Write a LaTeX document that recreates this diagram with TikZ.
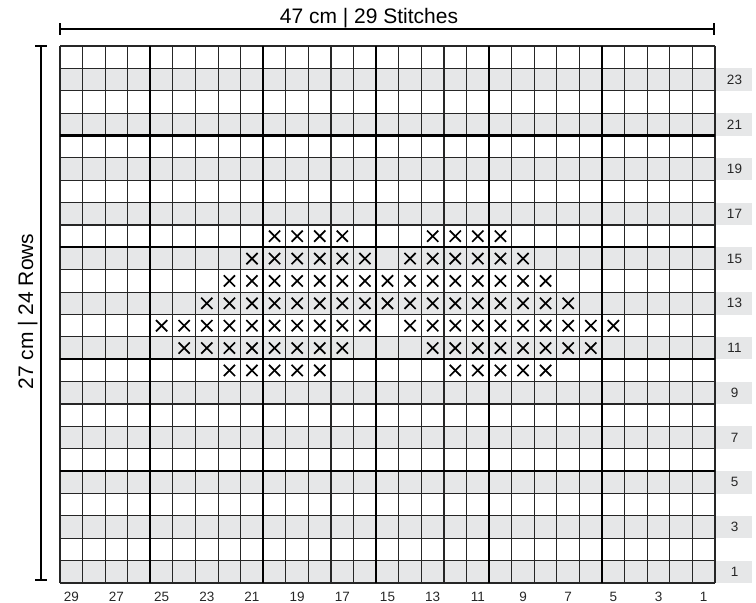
\documentclass[tikz,border=0pt]{standalone}
\usepackage{fontspec}
\setmainfont{Liberation Sans}
\definecolor{rowgray}{HTML}{E6E7E8}
\begin{document}
\begin{tikzpicture}[x=1pt,y=-1pt,
  graycell/.style={fill=rowgray},
  thinline/.style={line width=1.1pt,draw=black!85},
  thickline/.style={line width=2.2pt,draw=black},
  dimline/.style={line width=2.2pt,draw=black},
  numlabel/.style={inner sep=0pt,font=\fontsize{13.5}{15}\selectfont,text=black!85},
  titlelabel/.style={inner sep=0pt,font=\fontsize{21}{24}\selectfont},
  xmk/.style={line width=1.7pt,draw=black}]
\useasboundingbox (0,0) rectangle (756,603);
\def\gx{60}\def\gy{46}
\def\cw{22.5862}\def\ch{22.375}
% gray rows (odd rows from bottom), extended to the number band
\foreach \j in {1,3,...,23}
  \fill[graycell] ({\gx},{\gy+\j*\ch}) rectangle (752,{\gy+(\j+1)*\ch});
% X marks
\newcommand{\xm}[2]{%
  \draw[xmk] ({\gx+(#1+0.5)*\cw-5.6},{\gy+(#2+0.5)*\ch-5.6}) -- ++(11.2,11.2);
  \draw[xmk] ({\gx+(#1+0.5)*\cw-5.6},{\gy+(#2+0.5)*\ch+5.6}) -- ++(11.2,-11.2);}
\foreach \c in {9,...,12,16,17,18,19} {\xm{\c}{8}}
\foreach \c in {8,...,13,15,16,...,20} {\xm{\c}{9}}
\foreach \c in {7,...,21} {\xm{\c}{10}}
\foreach \c in {6,...,22} {\xm{\c}{11}}
\foreach \c in {4,...,13,15,16,...,24} {\xm{\c}{12}}
\foreach \c in {5,...,12,16,17,...,23} {\xm{\c}{13}}
\foreach \c in {7,...,11,17,18,...,21} {\xm{\c}{14}}
% thin grid
\foreach \i in {0,...,29}
  \draw[thinline] ({\gx+\i*\cw},{\gy}) -- ({\gx+\i*\cw},{\gy+24*\ch});
\foreach \j in {0,...,24}
  \draw[thinline] ({\gx},{\gy+\j*\ch}) -- ({\gx+29*\cw},{\gy+\j*\ch});
% thick grid lines every 5 stitches / rows
\foreach \i in {4,9,14,19,24}
  \draw[thickline] ({\gx+\i*\cw},{\gy}) -- ({\gx+\i*\cw},{\gy+24*\ch});
\foreach \j in {4,9,14,19}
  \draw[thickline] ({\gx},{\gy+\j*\ch}) -- ({\gx+29*\cw},{\gy+\j*\ch});
% row numbers
\foreach \j [evaluate=\j as \r using int(24-\j)] in {1,3,...,23}
  \node[numlabel] (row\r) at (734.5,{\gy+(\j+0.5)*\ch}) {\r};
% column numbers
\foreach \c [evaluate=\c as \n using int(29-\c)] in {0,2,...,28}
  \node[numlabel,anchor=base] (col\n) at ({\gx+(\c+0.5)*\cw},601.5) {\n};
% dimension line: width
\coordinate (wl) at (60,29);
\coordinate (wr) at (714,29);
\coordinate (wlt) at (60,23);\coordinate (wlb) at (60,35);
\coordinate (wrt) at (714,23);\coordinate (wrb) at (714,35);
\draw[dimline] (wl) -- (wr);
\draw[dimline] (wlt) -- (wlb);
\draw[dimline] (wrt) -- (wrb);
\node[titlelabel,anchor=base] (wlabel) at (369,23) {47 cm | 29 Stitches};
% dimension line: height
\coordinate (ht) at (41,46);
\coordinate (hb) at (41,580);
\coordinate (htl) at (35,46);\coordinate (htr) at (47,46);
\coordinate (hbl) at (35,580);\coordinate (hbr) at (47,580);
\draw[dimline] (ht) -- (hb);
\draw[dimline] (htl) -- (htr);
\draw[dimline] (hbl) -- (hbr);
\node[titlelabel,anchor=base,rotate=90] (hlabel) at (33,311.5) {27 cm | 24 Rows};
\end{tikzpicture}
\end{document}
